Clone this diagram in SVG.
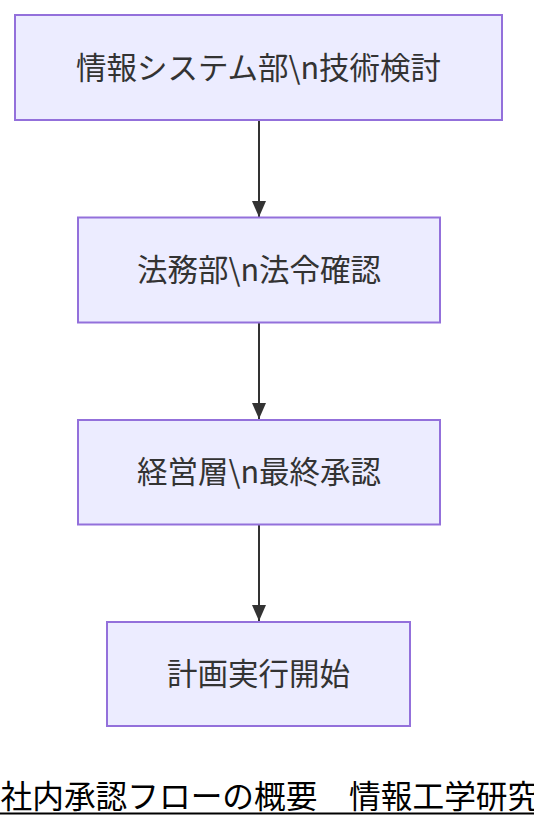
<svg xmlns="http://www.w3.org/2000/svg" width="534" height="828" viewBox="0 0 534 828">
<defs>
<style>
.node rect{fill:#ECECFF;stroke:#9370DB;stroke-width:2}
.node text{font-family:"Noto Sans CJK JP","Noto Sans",sans-serif;font-size:30.5px;fill:#333;text-anchor:middle;dominant-baseline:central}
.edge{stroke:#333;stroke-width:2;fill:none}
.cap{font-family:"Noto Sans CJK JP","Noto Sans",sans-serif;font-size:31.7px;fill:#000}
</style>
<marker id="arr" viewBox="0 0 16 14" refX="16" refY="7" markerWidth="16" markerHeight="14" markerUnits="userSpaceOnUse" orient="auto">
<path d="M0,0 L16,7 L0,14 z" fill="#333"/>
</marker>
</defs>
<rect width="534" height="828" fill="#fff"/>
<g id="edges">
<line class="edge" x1="259" y1="121" x2="259" y2="217" marker-end="url(#arr)"/>
<line class="edge" x1="259" y1="323" x2="259" y2="419" marker-end="url(#arr)"/>
<line class="edge" x1="259" y1="525" x2="259" y2="621" marker-end="url(#arr)"/>
</g>
<g id="n1" class="node"><rect x="15" y="15" width="487" height="105"/><text x="258.5" y="65.5">情報システム部\n技術検討</text></g>
<g id="n2" class="node"><rect x="78" y="217.5" width="362" height="105"/><text x="259" y="268">法務部\n法令確認</text></g>
<g id="n3" class="node"><rect x="78" y="420" width="362" height="104.5"/><text x="259" y="470">経営層\n最終承認</text></g>
<g id="n4" class="node"><rect x="107" y="622" width="303" height="104"/><text x="258.5" y="672">計画実行開始</text></g>
<g id="caption">
<text class="cap" x="0.5" y="808">社内承認フローの概要　情報工学研究</text>
<line x1="0" y1="813.5" x2="534" y2="813.5" stroke="#000" stroke-width="2"/>
</g>
</svg>
